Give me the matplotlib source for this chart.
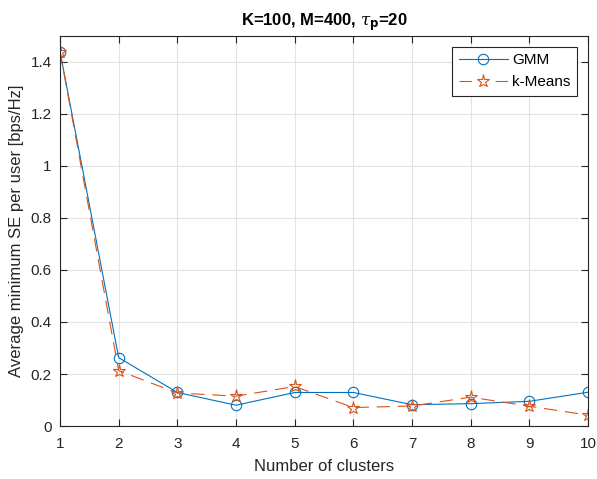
import matplotlib
matplotlib.use('Agg')
import matplotlib.pyplot as plt

plt.rcParams['font.family'] = ['Liberation Sans', 'DejaVu Sans']
plt.rcParams['mathtext.fontset'] = 'custom'
plt.rcParams['mathtext.it'] = 'DejaVu Serif:italic'

clusters = [1, 2, 3, 4, 5, 6, 7, 8, 9, 10]
gmm = [1.44, 0.263, 0.129, 0.080, 0.129, 0.129, 0.082, 0.086, 0.095, 0.130]
kmeans = [1.44, 0.213, 0.127, 0.115, 0.152, 0.071, 0.077, 0.111, 0.076, 0.042]

BLUE = '#0072BD'
ORANGE = '#D95319'

fig = plt.figure(figsize=(5.97, 4.79), dpi=100)
ax = fig.add_axes([0.1005, 0.1106, 0.8845, 0.8144])

ax.plot(clusters, gmm, '-o', color=BLUE, linewidth=0.8, markersize=7.5,
        markerfacecolor='none', markeredgewidth=0.8, label='GMM')
ax.plot(clusters, kmeans, '--*', color=ORANGE, linewidth=0.8, markersize=9.5,
        markerfacecolor='none', markeredgewidth=0.8, dashes=(12, 7), label='k-Means')

ax.set_xlim(1, 10)
ax.set_ylim(0, 1.5)
ax.set_xticks(clusters)
ax.set_yticks([0, 0.2, 0.4, 0.6, 0.8, 1, 1.2, 1.4])
ax.set_yticklabels(['0', '0.2', '0.4', '0.6', '0.8', '1', '1.2', '1.4'])
ax.grid(True, color='#e3e3e3', linewidth=0.8)
ax.set_axisbelow(True)
ax.tick_params(direction='in', top=True, right=True, labelsize=11, colors='#262626',
               length=5, pad=6)
ax.tick_params(axis='x', pad=8)
for s in ax.spines.values():
    s.set_color('#262626')
    s.set_linewidth(0.8)

ax.set_xlabel('Number of clusters', fontsize=12, color='#262626', labelpad=6)
ax.set_ylabel('Average minimum SE per user [bps/Hz]', fontsize=12, color='#262626', labelpad=5)
ax.set_title(r'K=100, M=400, $\tau_{\mathbf{p}}$=20', fontsize=12, fontweight='bold', pad=8)

leg = ax.legend(loc='upper right', fontsize=11, fancybox=False, framealpha=1,
                edgecolor='#262626', borderaxespad=0.7, handlelength=3.2,
                handletextpad=0.3, borderpad=0.45, labelspacing=0.5)
leg.get_frame().set_linewidth(0.8)
# dash - star - dash in the legend handle, like the MATLAB legend
leg.get_lines()[1].set_dashes((11.25, 21.25))

plt.savefig('out.png', dpi=100)
plt.close()
